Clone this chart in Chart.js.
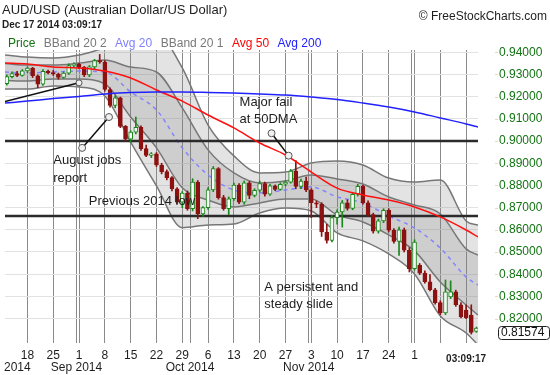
<!DOCTYPE html>
<html>
<head>
<meta charset="utf-8">
<script src="https://cdn.jsdelivr.net/npm/chart.js@4.4.1/dist/chart.umd.min.js"></script>
<style>
  html, body { margin: 0; padding: 0; background: #fff; }
  #wrap { width: 550px; height: 375px; position: relative; }
</style>
</head>
<body>
<div id="wrap"><canvas id="fx"></canvas></div>
<script>
// AUD/USD daily bars, Aug 12 - Dec 17 2014
// x is the trading day, 0 = Mon Aug 18
const firstDay = -4;
const opens = [
  .9258, .9290, .9304, .9296, .9316, .9328, .9294, .9256, .9314, .9308,
  .9302, .9286, .9306, .9340, .9346, .9332, .9298, .9334, .9362, .9356,
  .9232, .9160, .9194, .9066, .9008, .9040, .9062, .8966, .8935, .8942,
  .8892, .8862, .8835, .8785, .8725, .8765, .8695, .8815, .8672, .8700,
  .8780, .8876, .8745, .8695, .8740, .8802, .8725, .8812, .8755, .8778,
  .8808, .8760, .8798, .8782, .8805, .8815, .8865, .8795, .8820, .8780,
  .8722, .8716, .8590, .8552, .8655, .8680, .8722, .8696, .8760, .8796,
  .8722, .8668, .8594, .8640, .8688, .8598, .8548, .8600, .8508, .8425,
  .8440, .8405, .8366, .8330, .8272, .8226, .8298, .8320, .8262, .8238,
  .8216, .8142
];
const highs = [
  .9298, .9312, .9314, .9322, .9334, .9332, .9298, .9322, .9320, .9318,
  .9306, .9312, .9348, .9352, .9350, .9336, .9340, .9368, .9390, .9362,
  .9240, .9205, .9198, .9070, .9046, .9108, .9068, .8982, .8948, .8948,
  .8900, .8870, .8840, .8790, .8772, .8775, .8830, .8822, .8705, .8790,
  .8885, .8880, .8755, .8748, .8810, .8808, .8820, .8818, .8785, .8820,
  .8815, .8805, .8802, .8812, .8822, .8872, .8912, .8828, .8838, .8785,
  .8730, .8722, .8625, .8665, .8690, .8732, .8735, .8768, .8805, .8800,
  .8730, .8675, .8648, .8695, .8695, .8605, .8612, .8608, .8520, .8555,
  .8448, .8415, .8398, .8336, .8280, .8374, .8370, .8328, .8272, .8262,
  .8262, .8162
];
const lows = [
  .9252, .9284, .9290, .9292, .9308, .9286, .9240, .9250, .9302, .9296,
  .9278, .9282, .9300, .9332, .9326, .9290, .9290, .9326, .9350, .9225,
  .9152, .9150, .9060, .9000, .8995, .9032, .8958, .8930, .8925, .8885,
  .8852, .8825, .8775, .8718, .8700, .8688, .8685, .8650, .8660, .8692,
  .8772, .8738, .8688, .8668, .8732, .8718, .8715, .8740, .8748, .8770,
  .8752, .8755, .8776, .8778, .8798, .8810, .8785, .8785, .8772, .8655,
  .8700, .8570, .8540, .8545, .8625, .8612, .8688, .8690, .8752, .8715,
  .8660, .8585, .8585, .8632, .8590, .8540, .8485, .8500, .8410, .8418,
  .8398, .8360, .8325, .8265, .8218, .8218, .8290, .8255, .8203, .8200,
  .8130, .8138
];
const closes = [
  .9290, .9304, .9296, .9316, .9328, .9294, .9256, .9314, .9308, .9302,
  .9286, .9306, .9340, .9346, .9332, .9298, .9334, .9362, .9356, .9232,
  .9160, .9194, .9066, .9008, .9040, .9062, .8966, .8935, .8942, .8892,
  .8862, .8835, .8785, .8725, .8765, .8695, .8815, .8672, .8700, .8780,
  .8876, .8745, .8695, .8740, .8802, .8725, .8812, .8755, .8778, .8808,
  .8760, .8798, .8782, .8805, .8815, .8865, .8795, .8820, .8780, .8722,
  .8716, .8590, .8552, .8655, .8680, .8722, .8696, .8760, .8796, .8722,
  .8668, .8594, .8640, .8688, .8598, .8548, .8600, .8508, .8425, .8545,
  .8405, .8366, .8330, .8272, .8226, .8320, .8320, .8262, .8208, .8204,
  .8138, .8157
];

const lineDays = [-4.35, 0, 5, 10, 15, 20, 25, 30, 35, 40, 45, 50, 55, 60, 65, 70, 75, 80, 85, 87.3];
const avg20 =    [.9311, .9306, .9311, .9315, .9311, .9221, .9140, .8969, .8847, .8779, .8766, .8779, .8793, .8748, .8721, .8662, .8608, .8518, .8387, .8351];
const bb1Upper = [.9349, .9342, .9342, .9351, .9365, .9333, .9311, .9149, .8960, .8856, .8811, .8820, .8847, .8829, .8806, .8748, .8712, .8671, .8514, .8486];
const bb1Lower = [.9273, .9270, .9279, .9279, .9257, .9108, .8969, .8789, .8734, .8703, .8721, .8739, .8739, .8667, .8635, .8577, .8505, .8365, .8261, .8216];
const bb2Upper = [.9388, .9378, .9374, .9387, .9419, .9446, .9482, .9329, .9072, .8933, .8856, .8860, .8901, .8910, .8892, .8833, .8815, .8824, .8640, .8621];
const bb2Lower = [.9234, .9234, .9248, .9243, .9203, .8995, .8798, .8609, .8622, .8626, .8676, .8698, .8685, .8586, .8550, .8491, .8401, .8212, .8135, .8081];
const avg50 =    [.9351, .9347, .9333, .9329, .9315, .9284, .9230, .9180, .9117, .9059, .8991, .8937, .8860, .8788, .8757, .8734, .8703, .8658, .8599, .8568];
const avg200 =   [.9171, .9180, .9191, .9201, .9212, .9219, .9221, .9221, .9219, .9216, .9212, .9207, .9198, .9187, .9171, .9153, .9131, .9104, .9077, .9063];

// horizontal levels drawn on the chart
const levels = [0.90, 0.8662];

// x axis: weekly Mondays and month breaks
const mondays = [0, 5, 10, 15, 20, 25, 30, 35, 40, 45, 50, 55, 60, 65, 70, 75, 80, 85];
const mondayLabels = ['18', '25', '1', '8', '15', '22', '29', '6', '13', '20', '27', '3', '10', '17', '24', '1', '', ''];
const monthBreaks = [9.5, 31.5, 54.5, 74.5];
const monthNames = ['Aug 2014', 'Sep 2014', 'Oct 2014', 'Nov 2014'];
const monthLabelDays = [-4.35, 9.5, 31.5, 54.5];

// y axis
const priceTicks = [0.82, 0.83, 0.84, 0.85, 0.86, 0.87, 0.88, 0.89, 0.90, 0.91, 0.92, 0.93, 0.94];
const lastPrice = 0.81574;

// notes and pointers
const notes = ['August jobs', 'report', 'Major fail', 'at 50DMA', 'Previous 2014 low', 'A persistent and', 'steady slide'];
const noteDays = [5.0, 5.0, 41.1, 41.1, 11.9, 45.9, 45.9];
const noteLevels = [.8914, .8833, .9176, .9099, .8730, .8342, .8266];
const pointers = [
  [[10.6, .8969], [15.8, .9108]],
  [[47.3, .9035], [50.6, .8934]],
  [[-4.35, .9178], [10.0, .9262]]
];

const legendNames = ['Price', 'BBand 20 2', 'Avg 20', 'BBand 20 1', 'Avg 50', 'Avg 200'];
const legendColors = ['#137313', '#787878', '#8080ff', '#787878', '#ff0000', '#2020ff'];

const GREEN = '#1b861b';
const RED = '#8c1111';
const FONT = '"Liberation Sans", Arial, sans-serif';

const days = opens.map((_, i) => firstDay + i);
const isUp = opens.map((o, i) => closes[i] >= o);

function toLine(vals) {
  return vals.map((v, i) => ({ x: lineDays[i], y: v }));
}

function bandLine(vals, order, fillColor) {
  return {
    type: 'line',
    data: toLine(vals),
    borderColor: '#777',
    borderWidth: 1.5,
    pointRadius: 0,
    cubicInterpolationMode: 'monotone',
    fill: fillColor ? '+1' : false,
    backgroundColor: fillColor || 'transparent',
    order: order
  };
}

const datasets = [
  bandLine(bb2Upper, 20, 'rgba(140,140,140,0.24)'),
  bandLine(bb2Lower, 19),
  bandLine(bb1Upper, 18, 'rgba(120,120,120,0.2)'),
  bandLine(bb1Lower, 17),
  {
    type: 'line',
    data: toLine(avg20),
    borderColor: '#8585ff',
    borderWidth: 1.5,
    borderDash: [4, 4],
    pointRadius: 0,
    cubicInterpolationMode: 'monotone',
    order: 16
  }
];

levels.forEach((lv, k) => {
  datasets.push({
    type: 'line',
    data: [{ x: -4.35, y: lv }, { x: 87.3, y: lv }],
    borderColor: '#2b2b2b',
    borderWidth: 2.5,
    pointRadius: 0,
    order: 15 - k
  });
});

// wicks
datasets.push({
  type: 'bar',
  data: days.map((d, i) => ({ x: d, y: [lows[i], highs[i]] })),
  backgroundColor: isUp.map(u => u ? GREEN : RED),
  barThickness: 1,
  grouped: false,
  order: 12
});
// bodies
datasets.push({
  type: 'bar',
  data: days.map((d, i) => ({ x: d, y: [opens[i], closes[i]] })),
  backgroundColor: isUp.map(u => u ? '#f4fbf4' : RED),
  borderColor: isUp.map(u => u ? GREEN : RED),
  borderWidth: 1,
  borderSkipped: false,
  minBarLength: 1,
  barThickness: 4,
  grouped: false,
  order: 11
});

datasets.push({
  type: 'line',
  data: toLine(avg50),
  borderColor: '#ff1010',
  borderWidth: 1.5,
  pointRadius: 0,
  cubicInterpolationMode: 'monotone',
  order: 5
});
datasets.push({
  type: 'line',
  data: toLine(avg200),
  borderColor: '#2222ff',
  borderWidth: 1.5,
  pointRadius: 0,
  cubicInterpolationMode: 'monotone',
  order: 4
});

pointers.forEach((p, k) => {
  datasets.push({
    type: 'line',
    data: p.map(pt => ({ x: pt[0], y: pt[1] })),
    borderColor: '#111',
    borderWidth: 1.5,
    pointRadius: k === 2 ? [0, 3] : 3.5,
    pointBackgroundColor: '#f0f0f0',
    pointBorderColor: '#555',
    pointBorderWidth: 1,
    order: 1
  });
});

const decorations = {
  id: 'decorations',
  afterDatasetsDraw(chart) {
    const { ctx, scales: { x, y } } = chart;
    ctx.save();
    ctx.font = '13px ' + FONT;
    ctx.fillStyle = '#1e1e1e';
    ctx.textBaseline = 'middle';
    ctx.textAlign = 'left';
    notes.forEach((t, i) => {
      ctx.fillText(t, x.getPixelForValue(noteDays[i]), y.getPixelForValue(noteLevels[i]));
    });
    ctx.restore();
  },
  afterDraw(chart) {
    const { ctx, scales: { x, y }, chartArea } = chart;
    ctx.save();
    ctx.textBaseline = 'middle';
    ctx.fillStyle = '#1e1e1e';
    ctx.font = '13px ' + FONT;
    ctx.fillText('AUD/USD (Australian Dollar/US Dollar)', 2, 10);
    ctx.font = 'bold 10px ' + FONT;
    ctx.fillText('Dec 17 2014 03:09:17', 2, 25);
    ctx.font = '12px ' + FONT;
    ctx.textAlign = 'right';
    ctx.fillText('\u00a9 FreeStockCharts.com', 547, 17);

    // legend row
    ctx.textAlign = 'left';
    let lx = 8;
    legendNames.forEach((n, i) => {
      ctx.fillStyle = legendColors[i];
      ctx.fillText(n, lx, 44);
      lx += ctx.measureText(n).width + 8.5;
    });

    // small marks beside the price labels
    ctx.strokeStyle = '#ecd9b8';
    ctx.lineWidth = 1;
    priceTicks.forEach(v => {
      const ty = Math.round(y.getPixelForValue(v)) + 0.5;
      ctx.beginPath();
      ctx.moveTo(chartArea.right + 17, ty);
      ctx.lineTo(chartArea.right + 20, ty);
      ctx.stroke();
    });

    // month row
    ctx.fillStyle = '#1e1e1e';
    ctx.textAlign = 'center';
    monthNames.forEach((m, i) => {
      ctx.fillText(m, x.getPixelForValue(monthLabelDays[i]), 368);
    });
    ctx.font = 'bold 10px ' + FONT;
    ctx.fillText('03:09:17', x.getPixelForValue(85), 359);

    // last price box
    const py = y.getPixelForValue(lastPrice) + 4;
    const bx = chartArea.right + 20;
    ctx.fillStyle = '#fff';
    ctx.strokeStyle = '#222';
    ctx.lineWidth = 1;
    ctx.beginPath();
    ctx.roundRect(bx + 0.5, Math.round(py - 6.5) + 0.5, 51, 13, 3);
    ctx.fill();
    ctx.stroke();
    ctx.fillStyle = '#111';
    ctx.font = '12px ' + FONT;
    ctx.textAlign = 'left';
    ctx.fillText(lastPrice.toFixed(5), bx + 3, py + 0.5);
    ctx.restore();
  }
};

new Chart(document.getElementById('fx'), {
  type: 'line',
  data: { datasets: datasets },
  options: {
    responsive: true,
    maintainAspectRatio: false,
    animation: false,
    layout: { padding: { top: 50, left: 0, right: 0, bottom: 0 } },
    plugins: {
      legend: { display: false },
      tooltip: { enabled: false },
      title: { display: false }
    },
    scales: {
      x: {
        type: 'linear',
        min: -4.35,
        max: 87.3,
        offset: false,
        border: { display: false },
        grid: { color: '#8a8a8a', lineWidth: 1, drawTicks: false, offset: false },
        afterBuildTicks: (s) => {
          s.ticks = mondays.concat(monthBreaks).map(v => ({ value: v }));
        },
        afterFit: (s) => { s.height = 32; },
        ticks: {
          autoSkip: false,
          maxRotation: 0,
          padding: 5,
          color: '#1e1e1e',
          font: { family: FONT, size: 12 },
          callback: (v) => {
            const k = mondays.indexOf(v);
            return k >= 0 ? mondayLabels[k] : '';
          }
        }
      },
      y: {
        type: 'linear',
        position: 'right',
        min: 0.8090,
        max: 0.9410,
        border: { display: false },
        grid: { color: '#e2e2e2', drawTicks: false },
        afterBuildTicks: (s) => {
          s.ticks = priceTicks.map(v => ({ value: v }));
        },
        afterFit: (s) => { s.width = 72; },
        ticks: {
          padding: 21,
          color: '#137313',
          font: { family: FONT, size: 12 },
          callback: (v) => v.toFixed(5)
        }
      }
    }
  },
  plugins: [decorations]
});
</script>
</body>
</html>
